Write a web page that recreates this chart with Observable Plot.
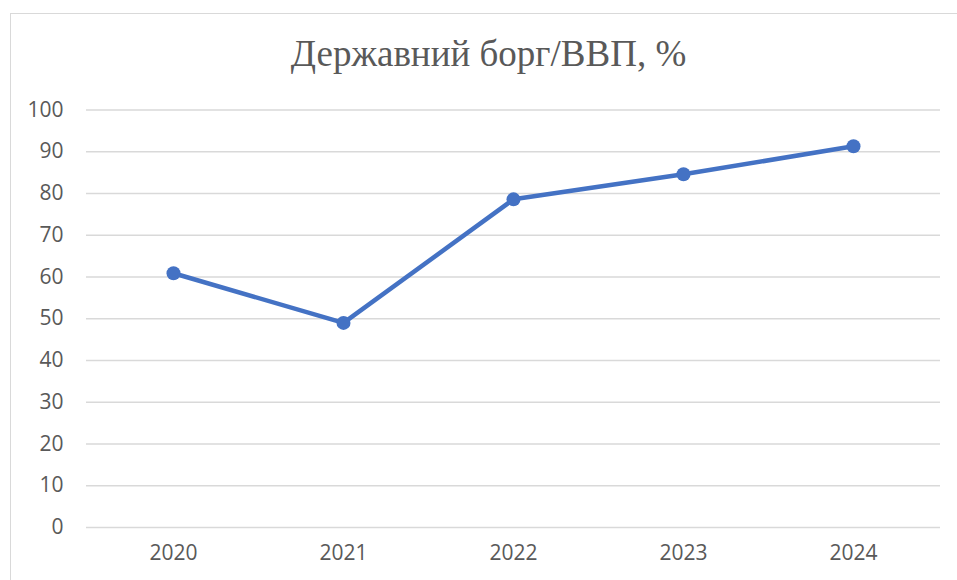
<!DOCTYPE html>
<html>
<head>
<meta charset="utf-8">
<script src="https://cdn.jsdelivr.net/npm/d3@7"></script>
<script src="https://cdn.jsdelivr.net/npm/@observablehq/plot@0.6"></script>
<style>
  html, body { margin: 0; padding: 0; background: #fff; }
  #wrap { position: relative; width: 957px; height: 580px; overflow: hidden; }
  #frame { position: absolute; left: 10px; top: 13px; width: 960px; height: 600px; border: 1px solid #d9d9d9; box-sizing: border-box; }
  #title { position: absolute; left: 0; top: 35px; width: 977px; text-align: center; font-family: "Liberation Serif", "Times New Roman", serif; font-size: 37px; color: #595959; line-height: 1; }
  #chart { position: absolute; left: 0; top: 0; }
</style>
</head>
<body>
<div id="wrap">
  <div id="frame"></div>
  <div id="title">Державний борг/ВВП, %</div>
  <div id="chart"></div>
</div>
<script>
const years = ["2020", "2021", "2022", "2023", "2024"];
const debtToGdp = [60.9, 49.0, 78.6, 84.6, 91.3];
const yTicks = [0, 10, 20, 30, 40, 50, 60, 70, 80, 90, 100];

const data = years.map((y, i) => ({year: y, value: debtToGdp[i]}));

const plot = Plot.plot({
  width: 957,
  height: 580,
  marginLeft: 86,
  marginRight: 17,
  marginTop: 109.5,
  marginBottom: 53,
  style: {fontFamily: "'Open Sans', sans-serif", fontSize: "21px", color: "#595959", background: "transparent", overflow: "visible"},
  x: {type: "band", domain: years, padding: 0, label: null},
  y: {domain: [0, 100], ticks: yTicks, label: null},
  marks: [
    Plot.gridY(yTicks, {stroke: "#d9d9d9", strokeOpacity: 1, strokeWidth: 1.3}),
    Plot.axisY(yTicks, {tickSize: 0, tickPadding: 23, label: null, fontSize: 21, fill: "#595959"}),
    Plot.axisX({tickSize: 0, tickPadding: 18, label: null, fontSize: 21, fill: "#595959"}),
    Plot.line(data, {x: "year", y: "value", stroke: "#4472C4", strokeWidth: 4.5, strokeLinejoin: "round"}),
    Plot.dot(data, {x: "year", y: "value", r: 7, fill: "#4472C4", stroke: "none"})
  ]
});
document.getElementById("chart").appendChild(plot);
</script>
</body>
</html>
